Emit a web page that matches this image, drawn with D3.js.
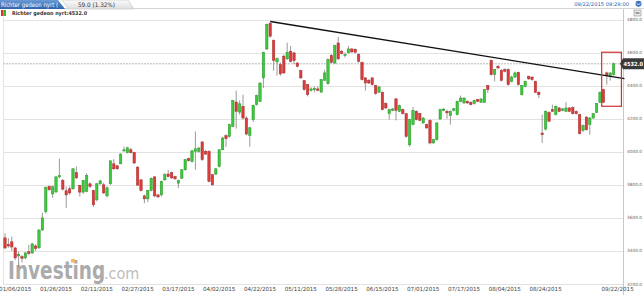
<!DOCTYPE html>
<meta charset="utf-8">
<style>
body { margin: 0; background: #fff; }
text { font-family: "DejaVu Sans", Verdana, sans-serif; }
</style>
<script src="https://cdn.jsdelivr.net/npm/d3@7"></script>
<div id="chart"></div>
<script>

// daily candles, 180 sessions
var opens = [3479,3440,3455,3418,3370,3365,3358,3395,3388,3430,
  3418,3527,3638,3790,3745,3757,3848,3826,3764,3776,
  3776,3873,3796,3756,3760,3806,3765,3709,3806,3800,
  3733,3806,3927,3915,3927,4005,3994,4012,3996,3907,
  3830,3733,3715,3766,3848,3739,3739,3830,3865,3873,
  3850,3810,3840,3891,3958,3941,4002,4002,4059,4002,
  4002,3861,3865,3911,4012,4097,4093,4153,4301,4240,
  4275,4204,4099,4194,4285,4305,4447,4622,4776,4673,
  4543,4527,4578,4562,4608,4598,4537,4491,4430,4406,
  4370,4375,4380,4361,4432,4412,4582,4537,4658,4608,
  4582,4598,4622,4620,4588,4541,4447,4432,4447,4400,
  4360,4360,4291,4230,4250,4320,4244,4255,4230,4042,
  4164,4244,4230,4174,4164,4190,4053,4073,4198,4250,
  4245,4218,4250,4224,4305,4295,4305,4299,4291,4315,
  4299,4299,4400,4553,4467,4517,4492,4497,4497,4426,
  4452,4480,4345,4396,4457,4452,4426,4360,4113,4137,
  4238,4255,4224,4265,4250,4244,4265,4267,4244,4224,
  4129,4210,4164,4204,4238,4299,4376,4477,4455,4467];
var highs = [3507,3477,3487,3425,3395,3375,3395,3436,3450,3440,
  3530,3632,3790,3795,3795,3852,3958,3835,3790,3790,
  3900,3911,3800,3830,3870,3815,3770,3812,3830,3812,
  3790,3950,3955,3920,3990,4032,4030,4024,4000,3912,
  3835,3740,3770,3845,3852,3745,3825,3870,3891,3880,
  3855,3830,3895,3955,3965,4010,4123,4030,4065,4010,
  4010,3865,3900,4015,4090,4105,4170,4315,4370,4310,
  4345,4215,4150,4285,4345,4420,4605,4775,4786,4680,
  4570,4540,4590,4660,4640,4605,4540,4495,4435,4410,
  4390,4395,4395,4440,4495,4565,4590,4648,4695,4615,
  4600,4640,4625,4625,4595,4545,4450,4440,4450,4405,
  4400,4365,4300,4260,4265,4325,4285,4260,4235,4200,
  4270,4250,4235,4210,4170,4195,4078,4180,4260,4265,
  4255,4250,4265,4310,4340,4330,4310,4305,4315,4320,
  4325,4380,4405,4558,4500,4525,4500,4505,4505,4460,
  4485,4485,4405,4430,4460,4455,4430,4365,4224,4250,
  4245,4285,4280,4270,4265,4300,4270,4275,4250,4230,
  4165,4215,4210,4235,4295,4365,4380,4485,4480,4540];
var lows = [3410,3420,3400,3345,3300,3330,3350,3375,3380,3400,
  3415,3520,3625,3765,3721,3750,3840,3765,3660,3740,
  3770,3835,3729,3745,3755,3780,3665,3700,3800,3745,
  3725,3800,3890,3890,3925,4000,3990,3990,3925,3795,
  3760,3689,3695,3760,3725,3720,3730,3825,3845,3835,
  3830,3780,3835,3885,3940,3935,3891,3995,3945,3980,
  3815,3795,3860,3905,4010,4030,4085,4150,4140,4225,
  4195,4100,4030,4180,4280,4300,4386,4615,4690,4490,
  4460,4460,4470,4555,4540,4530,4510,4440,4370,4335,
  4365,4360,4365,4355,4430,4405,4535,4530,4555,4590,
  4570,4595,4600,4595,4540,4430,4370,4410,4400,4345,
  4355,4250,4260,4194,4245,4190,4240,4225,4085,4030,
  4160,4190,4185,4170,4140,4045,4050,4068,4195,4245,
  4200,4164,4245,4220,4300,4290,4290,4280,4285,4300,
  4295,4295,4355,4460,4426,4500,4425,4480,4400,4420,
  4445,4400,4340,4390,4435,4430,4355,4325,4053,4130,
  4180,4240,4220,4240,4245,4240,4240,4225,4225,4105,
  4120,4128,4103,4200,4235,4295,4295,4406,4430,4460];
var closes = [3418,3430,3424,3358,3380,3355,3388,3385,3442,3415,
  3527,3600,3784,3770,3788,3848,3856,3774,3739,3751,
  3897,3842,3756,3826,3856,3790,3679,3806,3824,3751,
  3782,3945,3897,3897,3986,4012,4024,3994,3932,3798,
  3765,3715,3766,3839,3733,3727,3820,3861,3850,3842,
  3836,3826,3891,3952,3946,4006,4018,4022,3952,3986,
  3820,3800,3897,4012,4083,4079,4164,4309,4244,4290,
  4204,4107,4145,4281,4339,4416,4602,4770,4699,4553,
  4563,4471,4477,4602,4547,4551,4517,4447,4376,4345,
  4380,4383,4372,4436,4477,4558,4541,4642,4562,4594,
  4588,4622,4604,4602,4547,4436,4416,4416,4406,4352,
  4392,4255,4265,4255,4259,4250,4279,4230,4093,4194,
  4250,4194,4190,4204,4144,4053,4073,4174,4255,4258,
  4235,4244,4260,4305,4325,4325,4295,4285,4311,4305,
  4319,4376,4376,4467,4497,4507,4432,4487,4406,4452,
  4477,4406,4400,4426,4441,4436,4360,4345,4103,4244,
  4184,4244,4275,4244,4259,4265,4244,4230,4230,4109,
  4158,4133,4204,4230,4291,4359,4299,4461,4477,4532];

// x axis labels (session index -> date)
var tickIdx = [3, 15, 27, 39, 51, 63, 75, 87, 99, 111, 123, 135, 147, 159, 179];
var tickLabels = ["01/06/2015", "01/26/2015", "02/11/2015", "02/27/2015", "03/17/2015",
  "04/02/2015", "04/22/2015", "05/11/2015", "05/28/2015", "06/15/2015", "07/01/2015",
  "07/17/2015", "08/04/2015", "08/24/2015", "09/22/2015"];
var yTicks = [3200, 3400, 3600, 3800, 4000, 4200, 4400, 4600, 4800];

// drawn annotations: trend line and the red box (session index, price)
var trendIdx = [78, 182.2];
var trendVal = [4788, 4442];
var boxIdx = [175.5, 181.3];
var boxVal = [4275, 4602];
var lastPrice = 4532.0;

var width = 644, height = 295;
var x = d3.scaleLinear().domain([0, 179]).range([5, 613.6]);
var y = d3.scaleLinear().domain([3200, 4800]).range([284, 19.5]);

var svg = d3.select("#chart").append("svg")
    .attr("width", width)
    .attr("height", height);

var defs = svg.append("defs");
var g1 = defs.append("linearGradient").attr("id", "tabBlue").attr("x1", 0).attr("y1", 0).attr("x2", 0).attr("y2", 1);
g1.append("stop").attr("offset", "0%").attr("stop-color", "#6b9bd6");
g1.append("stop").attr("offset", "100%").attr("stop-color", "#2f62a8");
var g2 = defs.append("linearGradient").attr("id", "tabGray").attr("x1", 0).attr("y1", 0).attr("x2", 0).attr("y2", 1);
g2.append("stop").attr("offset", "0%").attr("stop-color", "#fbfbfb");
g2.append("stop").attr("offset", "100%").attr("stop-color", "#dedede");
defs.append("clipPath").attr("id", "plotClip")
  .append("rect").attr("x", 3).attr("y", 17).attr("width", 620).attr("height", 268);

// header tabs
svg.append("line").attr("x1", 0).attr("x2", 644).attr("y1", 8.5).attr("y2", 8.5)
    .attr("stroke", "#d4d4d4");
svg.append("path").attr("d", "M62,0 L128,0 L134,9 L68,9 Z")
    .attr("fill", "url(#tabGray)").attr("stroke", "#c4c4c4").attr("stroke-width", 0.6);
svg.append("path").attr("d", "M0,0 L58,0 L65,9 L0,9 Z").attr("fill", "url(#tabBlue)");
svg.append("text").attr("x", 1).attr("y", 6.6).attr("font-size", 6.2).attr("fill", "#fff")
    .attr("textLength", 57).attr("lengthAdjust", "spacingAndGlyphs")
    .text("Richter gedeon nyrt (");
svg.append("text").attr("x", 78).attr("y", 6.8).attr("font-size", 6.2).attr("fill", "#333")
    .attr("textLength", 37).attr("lengthAdjust", "spacingAndGlyphs")
    .text("59.0 (1.32%)");
svg.append("text").attr("x", 629).attr("y", 6.3).attr("font-size", 5.2).attr("fill", "#2d5fae")
    .attr("text-anchor", "end")
    .text("09/22/2015 09:29:00");
svg.append("circle").attr("cx", 638.5).attr("cy", 3.8).attr("r", 3).attr("fill", "#3d70bf");
svg.append("path").attr("d", "M636.5,3 L638.5,5 L640.5,3").attr("fill", "none").attr("stroke", "#fff").attr("stroke-width", 0.8);

// legend row
svg.append("rect").attr("x", 1).attr("y", 10).attr("width", 2.5).attr("height", 6).attr("fill", "#d33");
svg.append("rect").attr("x", 3.5).attr("y", 10).attr("width", 2.5).attr("height", 6).attr("fill", "#3b3");
svg.append("text").attr("x", 12).attr("y", 14.8).attr("font-size", 5.2).attr("font-weight", "bold").attr("fill", "#333")
    .attr("textLength", 75).attr("lengthAdjust", "spacingAndGlyphs")
    .text("Richter gedeon nyrt:" + lastPrice.toFixed(1));
svg.append("rect").attr("x", 634).attr("y", 10).attr("width", 7).attr("height", 6)
    .attr("fill", "#e8e8e8").attr("stroke", "#8a8a8a").attr("stroke-width", 0.6);
svg.append("line").attr("x1", 635.5).attr("x2", 639.5).attr("y1", 13).attr("y2", 13)
    .attr("stroke", "#555").attr("stroke-width", 1);

// watermark (squeezed horizontally with a transform)
var logo = svg.append("g").attr("opacity", 0.75);
logo.append("text")
    .attr("transform", "translate(8,278.5) scale(0.74,1)")
    .attr("font-family", "'Liberation Sans', Arial, sans-serif")
    .attr("font-size", 25).attr("font-weight", "bold").attr("fill", "#8f8f8f")
    .text("Investing");
logo.append("text")
    .attr("transform", "translate(104,278.5) scale(0.9,1)")
    .attr("font-family", "'Liberation Sans', Arial, sans-serif")
    .attr("font-size", 16).attr("fill", "#a8a8a8")
    .text(".com");
logo.append("rect").attr("x", 71).attr("y", 259).attr("width", 4).attr("height", 3.5).attr("fill", "#f0a030");

// grid
svg.append("g").selectAll("line").data(yTicks).enter().append("line")
    .attr("x1", 3).attr("x2", 623)
    .attr("y1", function(d) { return Math.round(y(d)) + 0.5; })
    .attr("y2", function(d) { return Math.round(y(d)) + 0.5; })
    .attr("stroke", "#e2e2e2");
svg.append("line").attr("x1", 3.5).attr("x2", 3.5).attr("y1", 17).attr("y2", 284)
    .attr("stroke", "#e4e4e4");
svg.append("line").attr("x1", 623.5).attr("x2", 623.5).attr("y1", 9).attr("y2", 295)
    .attr("stroke", "#c9c9c9");

// right axis labels
svg.append("g").selectAll("text").data(yTicks).enter().append("text")
    .attr("x", 627).attr("y", function(d) { return y(d) + 1.5; })
    .attr("font-size", 4.3).attr("fill", "#666")
    .text(function(d) { return d3.format(".1f")(d); });

// x labels
svg.append("g").selectAll("text").data(tickIdx).enter().append("text")
    .attr("x", function(d, i) { return x(d) + (i == tickIdx.length - 1 ? 4 : 0); })
    .attr("y", 290.5)
    .attr("text-anchor", "middle")
    .attr("font-size", 5.6).attr("fill", "#444")
    .text(function(d, i) { return tickLabels[i]; });

// last price dashed line
svg.append("line").attr("x1", 3).attr("x2", 621)
    .attr("y1", y(lastPrice)).attr("y2", y(lastPrice))
    .attr("stroke", "#b8b8b8").attr("stroke-dasharray", "2,1");

// candles
var plot = svg.append("g").attr("clip-path", "url(#plotClip)");
var idx = d3.range(opens.length);
plot.selectAll(".wick").data(idx).enter().append("line")
    .attr("x1", function(i) { return x(i); })
    .attr("x2", function(i) { return x(i); })
    .attr("y1", function(i) { return y(highs[i]); })
    .attr("y2", function(i) { return y(lows[i]); })
    .attr("stroke", "#808080").attr("stroke-width", 0.8);
plot.selectAll(".body").data(idx).enter().append("rect")
    .attr("x", function(i) { return x(i) - 1.2; })
    .attr("width", 2.4)
    .attr("y", function(i) { return y(Math.max(opens[i], closes[i])); })
    .attr("height", function(i) { return Math.max(1, Math.abs(y(opens[i]) - y(closes[i]))); })
    .attr("fill", function(i) { return closes[i] >= opens[i] ? "#3ec83e" : "#dc3c3c"; })
    .attr("stroke", function(i) { return closes[i] >= opens[i] ? "#2a962a" : "#a82c2c"; })
    .attr("stroke-width", 0.5);

// trend line
svg.append("line")
    .attr("x1", x(trendIdx[0])).attr("y1", y(trendVal[0]))
    .attr("x2", x(trendIdx[1])).attr("y2", y(trendVal[1]))
    .attr("stroke", "#111").attr("stroke-width", 1.3);

// red box
svg.append("rect")
    .attr("x", x(boxIdx[0])).attr("y", y(boxVal[1]))
    .attr("width", x(boxIdx[1]) - x(boxIdx[0]))
    .attr("height", y(boxVal[0]) - y(boxVal[1]))
    .attr("fill", "none").attr("stroke", "#d42f2f").attr("stroke-width", 1.2);

// last price tag
var ly = y(lastPrice);
svg.append("path")
    .attr("d", "M620," + ly + " L623," + (ly - 5.5) + " L644," + (ly - 5.5) + " L644," + (ly + 5.5) + " L623," + (ly + 5.5) + " Z")
    .attr("fill", "#3a3a3a");
svg.append("text").attr("x", 623.5).attr("y", ly + 2.1)
    .attr("font-size", 5.6).attr("font-weight", "bold").attr("fill", "#fff")
    .attr("textLength", 19.5).attr("lengthAdjust", "spacingAndGlyphs")
    .text(lastPrice.toFixed(1));
</script>
